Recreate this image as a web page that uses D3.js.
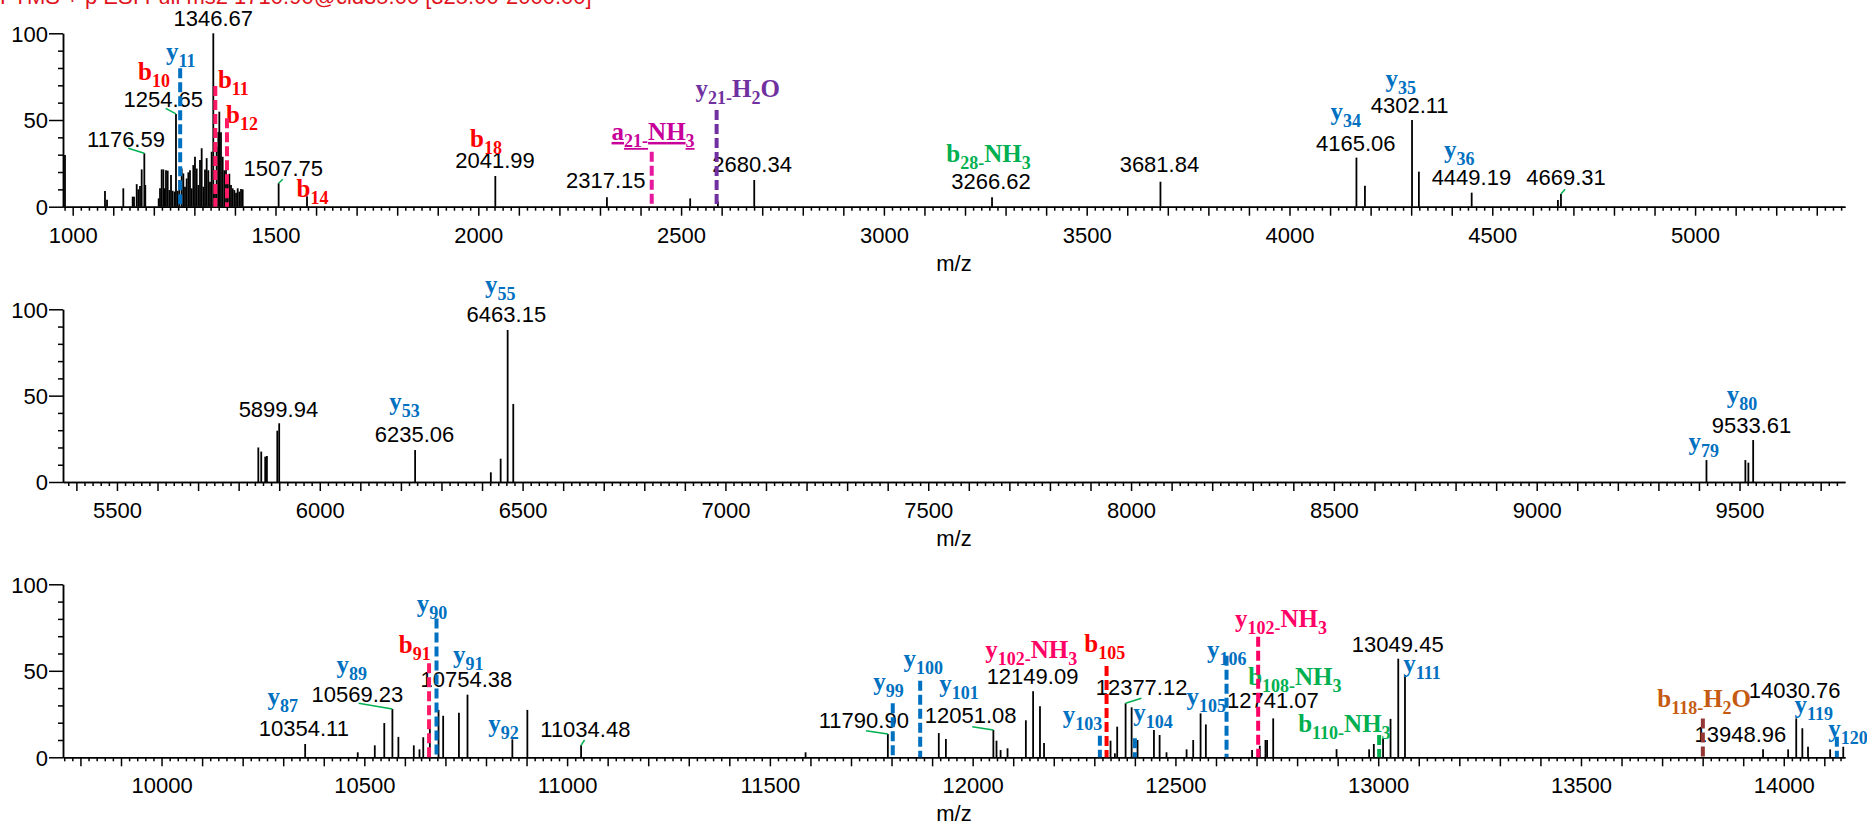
<!DOCTYPE html>
<html>
<head>
<meta charset="utf-8">
<script src="https://cdn.jsdelivr.net/npm/d3@7"></script>
<style>
  body { margin: 0; background: #fff; }
  svg { display: block; }
</style>
</head>
<body>
<svg id="chart" width="1867" height="825"></svg>
<script>
// ---- Spectrum data: [m/z, relative abundance %] ----
const peaksA = [
  [981,29.8],[1079.6,9],[1084.6,4],[1124.8,10.6],[1147.9,5.8],[1151.2,5.8],[1157.8,13],[1161.8,10],[1166,12],[1170.1,21.5],[1176.59,30.8],[1179,12.5],
  [1212,4.8],[1215.3,10.6],[1219.4,21.5],[1223.5,21.5],[1226.8,10.6],[1230,21],[1234.2,20.8],[1238.3,9.6],[1242.4,18.3],[1246.5,9.2],[1251.4,8.7],
  [1254.65,53.5],[1258.8,9.2],[1262.9,15.4],[1268.7,22],[1272.8,19.2],[1276.9,11.5],[1281,16.3],[1285.1,19.8],[1289.2,21],[1293.3,10.6],[1297.4,24],
  [1301.5,28.8],[1305.7,22],[1309.8,12.5],[1313.9,27],[1318,33.7],[1322.1,11.5],[1326.2,21.5],[1330.3,28],[1334.4,21],[1338.5,14.4],[1342.6,31.7],
  [1346.67,100],[1350.8,11.5],[1354.9,34.6],[1359,43],[1361.5,54.8],[1365.6,43],[1369.8,28.8],[1373.9,21],[1378,25],[1382.1,15.4],[1386.2,19],
  [1390.3,12.5],[1394.4,10.6],[1398.5,9.6],[1402.7,8],[1406.8,10.6],[1410.9,8.7],[1415,10.2],[1419.1,10],
  [1507.75,13.5],[1577.7,6],[2041.99,17.7],[2317.15,5.4],[2522.4,4.8],[2590.7,3],[2680.34,15.4],[3266.62,5.4],[3681.84,14.4],
  [4165.06,28.3],[4186,12.1],[4302.11,50],[4319,20.2],[4449.19,8.1],[4661.8,3.8],[4669.31,7.3]
];
const peaksB = [
  [5848.5,20],[5855.7,17.6],[5865.5,14.7],[5869.7,15],[5895.3,29.7],[5899.94,34],[6235.06,18.5],[6421.7,5.6],[6445.9,13.5],
  [6463.15,88],[6477,45.2],[9418.5,12.7],[9514.4,12.7],[9521.8,11.2],[9533.61,24.3]
];
const peaksC = [
  [10354.11,7.7],[10483.8,2.9],[10525.8,6.9],[10549.2,19.8],[10569.23,27.9],[10584,11.8],[10622,6.9],[10636,4.6],[10645.3,11.6],
  [10661.6,19.7],[10683,27.4],[10694.4,24],[10733.3,25.8],[10754.38,36.2],[10865,10.4],[10902,27.4],[11034.48,6.9],
  [11588,2.9],[11790.90,13.5],[11916.5,14],[11934,10.6],[12051.08,15.8],[12058.8,9.6],[12068.9,4.2],[12086,5.2],
  [12131.2,21.4],[12149.09,38.2],[12166,29.5],[12176,8.3],
  [12340,9.6],[12350.7,2.3],[12356.4,17.7],[12377.12,31.2],[12392,28.9],[12406.6,10],[12447,15.8],[12461,12.9],[12478,2.9],
  [12527.5,4.6],[12543.8,10],[12562,25.4],[12575,19],[12689,4.2],[12708,6.7],[12722,10],[12726,10],[12741.07,22.5],
  [12897.3,4.7],[12977.6,4.6],[12989.2,7.7],[13012,11],[13030.4,22.2],[13049.45,57],[13066,47.6],
  [13948.96,4.6],[14010.8,4.6],[14030.76,22.5],[14045.8,16.8],[14059.8,6.1],[14114.4,4.6],[14146.7,6.1]
];

// ---- m/z value labels: [value, anchor m/z, anchor level %] ----
const mzLabelsA = [
  [1346.67,1346.7,104.2],[1254.65,1223.3,57.7],[1176.59,1131.5,34.6],[1507.75,1519.3,17.7],[2041.99,2041.1,22.1],
  [2317.15,2314.3,10.6],[2680.34,2675.1,20.2],[3266.62,3264.1,10],[3681.84,3679.3,20.2],[4165.06,4163.4,32.3],
  [4302.11,4296.3,53.9],[4449.19,4448.5,12.5],[4669.31,4681.7,12.5]
];
const mzLabelsB = [[6463.15,6460,92.5],[5899.94,5898,37.8],[6235.06,6233.6,23.3],[9533.61,9529.5,28.5]];
const mzLabelsC = [
  [10354.11,10351,12.3],[10569.23,10482.8,32.1],[10754.38,10751.6,40.8],[11034.48,11045,11.9],[11790.90,11731.6,16.8],
  [12051.08,11995.2,19.7],[12149.09,12147.6,42.2],[12377.12,12416.5,36],[12741.07,12740.2,28.3],[13049.45,13048.2,61],
  [14030.76,14026.7,34.1],[13948.96,13893,9]
];

// ---- leader lines from a label to its peak: [start m/z, start level, peak m/z, peak %] ----
const leadersA = [[1229.3,56.7,1254.65,53.5],[1137.1,33.7,1176.59,30.8],[1517.9,15.8,1507.75,13.5],[4679.5,10,4669.31,7.3]];
const leadersB = [];
const leadersC = [[10485.8,31.2,10569.23,27.9],[11043,10,11034.48,6.9],[11736.8,15.4,11790.90,13.5],[11999,17.7,12051.08,15.8],[12416,34.1,12377.12,31.2]];

// ---- fragment ion annotations: [ion, index, neutral loss, colour, anchor m/z, anchor level, underline] ----
const ionsA = [
  ["y","11","","blue",1230,84.6],["b","10","","red",1161,73.1],["b","11","","red",1358,68.5],["b","12","","red",1378,48.3],
  ["b","14","","red",1552,5.8],["b","18","","red",1979.5,34.6],["a","21-","NH3","magenta",2328.6,38.5,true],
  ["y","21-","H2O","purple",2535.4,63.4],["b","28-","NH3","green",3153.9,26],
  ["y","34","","blue",4101.4,50],["y","35","","blue",4236.7,69.2],["y","36","","blue",4380.9,27.9]
];
const ionsB = [["y","55","","blue",6407.4,109.3],["y","53","","blue",6171.2,41.7],["y","79","","blue",9374.4,18.5],["y","80","","blue",9468.6,45.6]];
const ionsC = [
  ["y","87","","blue",10261,30.2],["y","89","","blue",10431.6,48.6],["b","91","","red",10585,60.1],["y","90","","blue",10629,84.2],
  ["y","91","","blue",10718.8,54.3],["y","92","","blue",10805.8,14.8],["y","99","","blue",11755,38.9],["y","100","","blue",11829.7,52.4],
  ["y","101","","blue",11917.5,37.9],["y","102-","NH3","pink",12031.2,57.2],["b","105","","red",12275.3,61],["y","103","","blue",12222.3,20],
  ["y","104","","blue",12396,20.9],["y","105","","blue",12527,30.2],["y","106","","blue",12578,57.2],["b","108-","NH3","green",12679.3,41.8],
  ["y","102-","NH3","pink",12646.6,75.5],["b","110-","NH3","green",12802.6,14.5],["y","111","","blue",13062,49.5],
  ["b","118-","H2O","orange",13688,29.2],["y","119","","blue",14026.7,25.4],["y","120","","blue",14109.8,11.9]
];

// ---- matched-ion markers (dashed): [m/z, height %, colour] ----
const marksA = [[1265,79.8,"blue"],[1351.6,69.6,"pinkDash"],[1380.4,51,"pinkDash"],[2427.6,31.7,"magentaDash"],[2587.6,55.8,"purple"]];
const marksB = [];
const marksC = [
  [10659.6,54.3,"pinkDash"],[10678,80.3,"blue"],[11803,31.2,"blue"],[11870.6,44.3,"blue"],[12313.7,12.5,"blue"],[12330.2,52.8,"red"],
  [12400,11,"blue"],[12626,58.7,"blue"],[12704,69.7,"pink"],[13002.3,12.9,"green"],[13800.5,22.5,"darkred"],[14130.9,11.9,"blue"]
];

const yTicks = [0, 50, 100];
const titleText = "FTMS + p ESI Full ms2 1710.90@cid35.00 [325.00-2000.00]";

// ---- styling ----
const colors = {
  blue: "#0070C0", red: "#FF0000", green: "#00B050", purple: "#7030A0", pink: "#FF0066",
  pinkDash: "#FF1A66", magenta: "#C8009A", magentaDash: "#E6199E", orange: "#C55A11", darkred: "#953735"
};
const sansFont = "'Liberation Sans', Arial, sans-serif";
const serifFont = "'Liberation Serif', 'Times New Roman', serif";
const ionSize = 25, subSize = 18, subShift = 7;

const panels = [
  { domain: [976.1, 5369.6], base: 206.7, top: 33.3, peaks: peaksA, labels: mzLabelsA, leaders: leadersA, ions: ionsA, marks: marksA },
  { domain: [5367, 9760],    base: 482,   top: 309.3, peaks: peaksB, labels: mzLabelsB, leaders: leadersB, ions: ionsB, marks: marksB },
  { domain: [9757, 14151],   base: 757.3, top: 584.3, peaks: peaksC, labels: mzLabelsC, leaders: leadersC, ions: ionsC, marks: marksC }
];
const plotLeft = 63, plotRight = 1845;

const svg = d3.select("#chart");

svg.append("text")
  .attr("x", 0).attr("y", 4)
  .attr("fill", "#E0141E")
  .style("font-family", sansFont).style("font-size", "22px")
  .text(titleText);

panels.forEach(p => {
  const x = d3.scaleLinear().domain(p.domain).range([plotLeft, plotRight]);
  const y = d3.scaleLinear().domain([0, 100]).range([p.base, p.top]);
  const g = svg.append("g");

  // x axis: minor ticks every 20, major every 100, labels every 500
  const start = Math.ceil(p.domain[0] / 20) * 20;
  const allTicks = d3.range(start, p.domain[1], 20);
  const minor = allTicks.filter(v => v % 100 !== 0);
  const major = allTicks.filter(v => v % 100 === 0);

  const xMinor = g.append("g").attr("transform", `translate(0,${p.base})`)
    .call(d3.axisBottom(x).tickValues(minor).tickSize(4).tickSizeOuter(0).tickFormat(""));
  const xMajor = g.append("g").attr("transform", `translate(0,${p.base})`)
    .call(d3.axisBottom(x).tickValues(major).tickSize(9).tickSizeOuter(0)
      .tickFormat(v => v % 500 === 0 ? String(v) : ""));
  [xMinor, xMajor].forEach(a => {
    a.selectAll("path,line").attr("stroke", "#000").attr("stroke-width", 1.5);
  });
  xMajor.selectAll("text")
    .attr("y", 36).attr("dy", null)
    .attr("fill", "#000")
    .style("font-family", sansFont).style("font-size", "22px");

  // y axis
  const yMinor = g.append("g").attr("transform", `translate(${plotLeft},0)`)
    .call(d3.axisLeft(y).tickValues(d3.range(10, 100, 10).filter(v => v !== 50)).tickSize(5).tickSizeOuter(0).tickFormat(""));
  const yMajor = g.append("g").attr("transform", `translate(${plotLeft},0)`)
    .call(d3.axisLeft(y).tickValues(yTicks).tickSize(14).tickPadding(1).tickSizeOuter(0));
  [yMinor, yMajor].forEach(a => {
    a.selectAll("path,line").attr("stroke", "#000").attr("stroke-width", 1.5);
  });
  yMajor.selectAll("text")
    .attr("fill", "#000").attr("dy", "0.36em")
    .style("font-family", sansFont).style("font-size", "22px");

  // axis title
  g.append("text")
    .attr("x", (plotLeft + plotRight) / 2).attr("y", p.base + 64)
    .attr("text-anchor", "middle")
    .style("font-family", sansFont).style("font-size", "22px")
    .text("m/z");

  // stick spectrum
  g.append("g").selectAll("line").data(p.peaks).join("line")
    .attr("x1", d => x(d[0])).attr("x2", d => x(d[0]))
    .attr("y1", y(0)).attr("y2", d => y(d[1]))
    .attr("stroke", "#000").attr("stroke-width", 1.8);

  // leader lines
  g.append("g").selectAll("line").data(p.leaders).join("line")
    .attr("x1", d => x(d[0])).attr("y1", d => y(d[1]))
    .attr("x2", d => x(d[2])).attr("y2", d => y(d[3]))
    .attr("stroke", colors.green).attr("stroke-width", 1.5);

  // m/z value labels
  g.append("g").selectAll("text").data(p.labels).join("text")
    .attr("x", d => x(d[1])).attr("y", d => y(d[2]))
    .attr("text-anchor", "middle")
    .style("font-family", sansFont).style("font-size", "22px")
    .text(d => d[0].toFixed(2));

  // fragment ion labels (letter, subscript index, optional neutral loss)
  p.ions.forEach(ion => {
    const [letter, index, loss, col, mz, lvl, underline] = ion;
    const t = g.append("text")
      .attr("x", x(mz)).attr("y", y(lvl))
      .attr("fill", colors[col])
      .style("font-family", serifFont).style("font-weight", "bold").style("font-size", ionSize + "px");
    if (underline) t.style("text-decoration", "underline");
    t.append("tspan").text(letter);
    t.append("tspan").attr("dy", subShift).style("font-size", subSize + "px").text(index);
    let sub = true;
    loss.split("").forEach(ch => {
      const isDigit = /[0-9]/.test(ch);
      const ts = t.append("tspan").text(ch);
      if (isDigit && !sub) { ts.attr("dy", subShift).style("font-size", subSize + "px"); sub = true; }
      else if (isDigit && sub) { ts.style("font-size", subSize + "px"); }
      else if (!isDigit && sub) { ts.attr("dy", -subShift); sub = false; }
    });
  });

  // matched-ion dashed markers
  g.append("g").selectAll("line").data(p.marks).join("line")
    .attr("x1", d => x(d[0])).attr("x2", d => x(d[0]))
    .attr("y1", d => y(d[1])).attr("y2", y(0))
    .attr("stroke", d => colors[d[2]])
    .attr("stroke-width", 4)
    .attr("stroke-dasharray", "10,4");
});
</script>
</body>
</html>
